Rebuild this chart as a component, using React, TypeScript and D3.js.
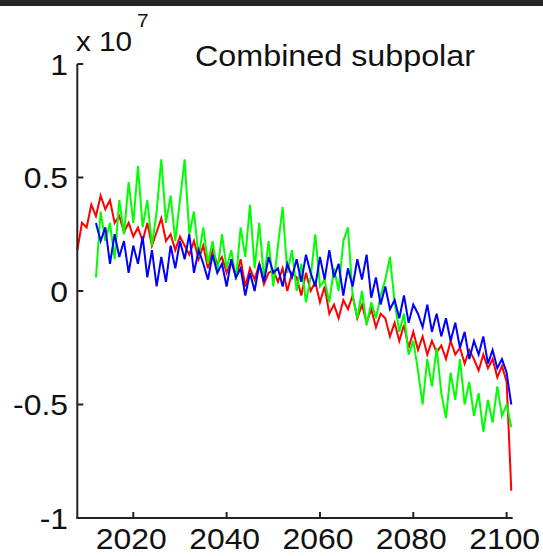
import React from "react";
import * as d3 from "d3";

const redStart = 2008;
const redValues = [
  0.18, 0.30, 0.28, 0.38, 0.33, 0.42, 0.36, 0.40, 0.30, 0.33,
  0.26, 0.30, 0.24, 0.28, 0.22, 0.30, 0.20, 0.26, 0.32, 0.22,
  0.25, 0.18, 0.24, 0.20, 0.16, 0.22, 0.14, 0.20, 0.10, 0.18,
  0.12, 0.15, 0.08, 0.13, 0.06, 0.14, 0.02, 0.10, 0.05, 0.12,
  0.03, 0.08, 0.09, 0.04, 0.10, 0.00, 0.08, 0.06, -0.02, 0.08,
  0.00, 0.04, -0.05, 0.02, -0.10, -0.06, -0.12, -0.04, -0.08, -0.02,
  -0.12, -0.06, -0.14, -0.08, -0.16, -0.10, -0.12, -0.20, -0.14, -0.22,
  -0.15, -0.25, -0.18, -0.26, -0.20, -0.28, -0.22, -0.27, -0.24, -0.30,
  -0.22, -0.28, -0.25, -0.32, -0.26, -0.30, -0.35, -0.28, -0.34, -0.30,
  -0.38, -0.33, -0.40, -0.88,
];

const greenStart = 2012;
const greenValues = [
  0.06, 0.35, 0.22, 0.30, 0.14, 0.40, 0.25, 0.48, 0.30, 0.55,
  0.28, 0.40, 0.20, 0.35, 0.58, 0.30, 0.42, 0.22, 0.40, 0.58,
  0.25, 0.35, 0.15, 0.28, 0.12, 0.22, 0.08, 0.25, 0.10, 0.18,
  0.05, 0.28, 0.15, 0.38, 0.10, 0.30, 0.05, 0.22, 0.02, 0.20,
  0.37, 0.08, 0.18, 0.00, 0.12, -0.05, 0.06, 0.25, 0.02, 0.05,
  -0.05, 0.10, 0.00, 0.22, 0.28, -0.02, -0.12, 0.00, -0.15, -0.05,
  -0.12, -0.02, 0.05, 0.15, -0.05, -0.18, -0.10, -0.28, -0.22, -0.35,
  -0.50, -0.30, -0.42, -0.25, -0.45, -0.56, -0.36, -0.48, -0.30, -0.50,
  -0.40, -0.55, -0.45, -0.62, -0.48, -0.58, -0.42, -0.55, -0.50, -0.60,
];

const blueStart = 2012;
const blueValues = [
  0.30, 0.22, 0.28, 0.12, 0.25, 0.15, 0.22, 0.08, 0.20, 0.12,
  0.24, 0.06, 0.18, 0.02, 0.15, 0.04, 0.20, 0.10, 0.22, 0.14,
  0.25, 0.08, 0.18, 0.12, 0.05, 0.16, 0.08, 0.12, 0.02, 0.14,
  0.06, 0.10, -0.02, 0.08, 0.00, 0.12, 0.04, 0.15, 0.08, 0.10,
  0.02, 0.12, 0.06, 0.14, 0.04, 0.16, 0.08, 0.02, 0.15, 0.05,
  0.18, 0.06, 0.12, -0.02, 0.10, 0.02, 0.14, 0.05, 0.16, -0.03,
  0.06, -0.06, 0.02, -0.08, -0.04, -0.12, -0.02, -0.14, -0.06, -0.10,
  -0.16, -0.06, -0.18, -0.10, -0.20, -0.12, -0.22, -0.14, -0.25, -0.18,
  -0.30, -0.22, -0.28, -0.20, -0.32, -0.26, -0.34, -0.30, -0.36, -0.50,
];

const xTicks = [2020, 2040, 2060, 2080, 2100];
const yTicks = [-1, -0.5, 0, 0.5, 1];
const yTickLabels = ["-1", "-0.5", "0", "0.5", "1"];
const title = "Combined subpolar";

const W = 543;
const H = 556;

export default function App() {
  const x = d3.scaleLinear().domain([2008, 2101.3]).range([77.3, 512.7]);
  const y = d3.scaleLinear().domain([-1, 1]).range([518, 64]);
  const line = d3
    .line<[number, number]>()
    .x((d) => x(d[0]))
    .y((d) => y(d[1]));
  const toPts = (start: number, vals: number[]): [number, number][] =>
    vals.map((v, i) => [start + i, v]);
  const series = [
    { vals: redValues, start: redStart, color: "#ff0000" },
    { vals: greenValues, start: greenStart, color: "#00ff00" },
    { vals: blueValues, start: blueStart, color: "#0000ff" },
  ];
  const font = "'Liberation Sans', Arial, Helvetica, sans-serif";
  const axisColor = "#222";
  return (
    <svg
      width={W}
      height={H}
      style={{ position: "absolute", left: 0, top: 0, background: "#fff" }}
    >
      <rect x={0} y={0} width={W} height={6} fill="#262626" />
      {series.map((s, i) => (
        <path
          key={i}
          d={line(toPts(s.start, s.vals)) || ""}
          fill="none"
          stroke={s.color}
          strokeWidth={2}
          strokeLinejoin="miter"
        />
      ))}
      {/* axes */}
      <line x1={x.range()[0]} x2={x.range()[0]} y1={y(1)} y2={y(-1)} stroke={axisColor} strokeWidth={2} />
      <line x1={x.range()[0] - 1} x2={x.range()[1]} y1={y(-1)} y2={y(-1)} stroke={axisColor} strokeWidth={2} />
      {yTicks.map((t, i) => (
        <g key={"y" + i}>
          <line x1={x.range()[0]} x2={x.range()[0] + 6} y1={y(t)} y2={y(t)} stroke={axisColor} strokeWidth={2} />
          <text
            transform={`translate(68,${y(t) + 10.5}) scale(1.1,1)`}
            textAnchor="end"
            fontFamily={font}
            fontSize={29}
            fill="#111"
          >
            {yTickLabels[i]}
          </text>
        </g>
      ))}
      {xTicks.map((t) => (
        <g key={"x" + t}>
          <line x1={x(t)} x2={x(t)} y1={y(-1)} y2={y(-1) - 6} stroke={axisColor} strokeWidth={2} />
          <text
            transform={`translate(${x(t) - 2},549) scale(1.1,1)`}
            textAnchor="middle"
            fontFamily={font}
            fontSize={29}
            fill="#111"
          >
            {t}
          </text>
        </g>
      ))}
      <text transform="translate(76,51) scale(1.1,1)" fontFamily={font} fontSize={27} fill="#111">
        x 10
      </text>
      <text transform="translate(137,27) scale(1.1,1)" fontFamily={font} fontSize={19} fill="#111">
        7
      </text>
      <text
        x={195}
        y={66}
        fontFamily={font}
        fontSize={29}
        fill="#111"
        textLength={280}
        lengthAdjust="spacingAndGlyphs"
      >
        {title}
      </text>
    </svg>
  );
}
